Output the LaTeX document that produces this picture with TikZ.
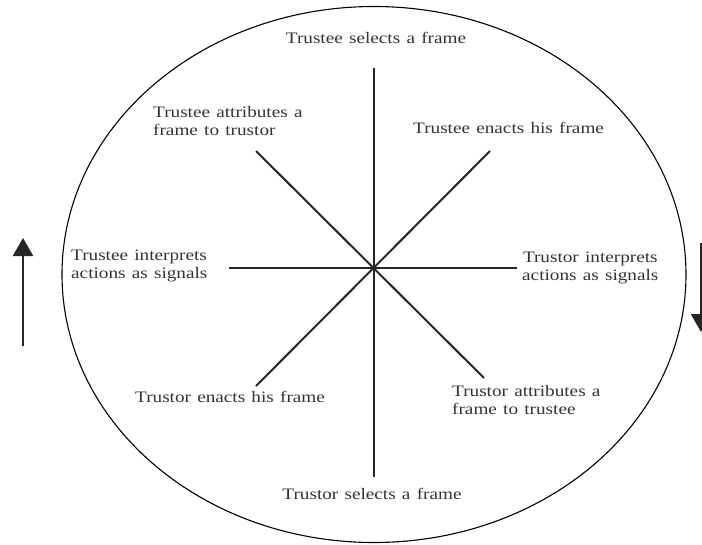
\documentclass[tikz,border=0pt]{standalone}
\usepackage{fontspec}
\setmainfont{Liberation Serif}[FakeStretch=1.2,WordSpace=1.3]
\usetikzlibrary{arrows.meta,shapes.geometric}
\begin{document}
\begin{tikzpicture}[x=1pt,y=-1pt,
  spoke/.style={line width=2pt,black!85},
  lbl/.style={font=\fontsize{16}{18.5}\selectfont,text=black!80,inner sep=0pt},
  dirarrow/.style={line width=2pt,black!85,-{Triangle[width=20pt,length=18pt]}}]
\useasboundingbox (0,0) rectangle (702,544);
\node[draw,ellipse,line width=1.1pt,minimum width=624pt,minimum height=536pt,inner sep=0pt] (ell) at (374,274.5) {};
\coordinate (c) at (374,268);
\coordinate (n) at (374,68);
\coordinate (s) at (374,477);
\coordinate (w) at (229,268);
\coordinate (e) at (517,268);
\coordinate (nw) at (256,151);
\coordinate (ne) at (490,151);
\coordinate (sw) at (256,386);
\coordinate (se) at (484,378);
\draw[spoke] (n) -- (s);
\draw[spoke] (w) -- (e);
\draw[spoke] (nw) -- (se);
\draw[spoke] (ne) -- (sw);
\node[lbl] (t1) at (376,38) {Trustee selects a frame};
\node[lbl,align=left,anchor=north west] (t2) at (153,106) {Trustee attributes a\\frame to trustor};
\node[lbl,anchor=west] (t3) at (413,128) {Trustee enacts his frame};
\node[lbl,align=left,anchor=west] (t4) at (71,266) {Trustee interprets\\actions as signals};
\node[lbl,align=center,anchor=west] (t5) at (522,268) {Trustor interprets\\actions as signals};
\node[lbl,anchor=west] (t6) at (135,397) {Trustor enacts his frame};
\node[lbl,align=left,anchor=north west] (t7) at (452,385) {Trustor attributes a\\frame to trustee};
\node[lbl] (t8) at (372,494) {Trustor selects a frame};
\coordinate (la1) at (23,346);
\coordinate (la2) at (23,238);
\draw[dirarrow] (la1) -- (la2);
\coordinate (ra1) at (701,243);
\coordinate (ra2) at (701,332);
\draw[dirarrow] (ra1) -- (ra2);
\end{tikzpicture}
\end{document}
